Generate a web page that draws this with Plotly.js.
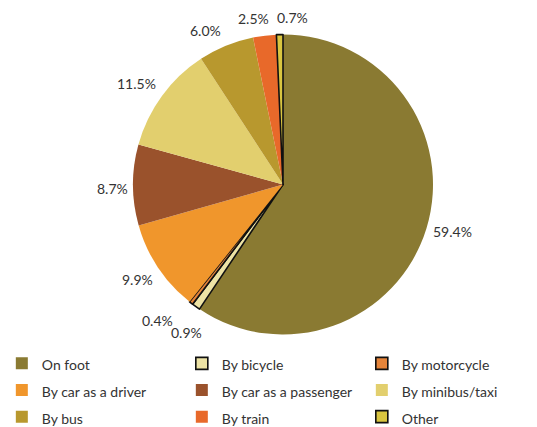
<!DOCTYPE html>
<html><head><meta charset="utf-8">
<script src="https://cdn.plot.ly/plotly-3.0.1.min.js"></script>
<style>html,body{margin:0;padding:0;background:#fff;}#chart{width:537px;height:427px;}</style>
</head><body><div id="chart"></div>
<script>
const categories = ["On foot","By bicycle","By motorcycle","By car as a driver","By car as a passenger","By minibus/taxi","By bus","By train","Other"];
const values = [59.4,0.9,0.4,9.9,8.7,11.5,6.0,2.5,0.7];
const labelsText = ["59.4%","0.9%","0.4%","9.9%","8.7%","11.5%","6.0%","2.5%","0.7%"];
const colors = ["#8A7A32","#EDE3A5","#E5843A","#F0962C","#9A522C","#E2CF6E","#B8982E","#E8692A","#D9C540"];
const outlined = [false,true,true,false,false,false,false,false,true];

// label placement tweaks (degrees / pixels), kept apart from the data
const labelAngleNudge = [-1.3,-2.3,5,0.5,-1,-1.5,-4.5,-3.2,4.4];
const labelRadialNudge = [-2,5,12,0,-2,1,2,2,2];

const FONT = 'Lato, "Open Sans", sans-serif';
const W = 537, H = 427;
const LEGEND_TOP = 345;           // px from top; legend reserves the space below
const PLOT_H = LEGEND_TOP;        // plot area height (margins 0)
const CX = 283, CY = 184.5, R = 150, PAD = 7;

const legendLabels = categories.map(c => '<span style="font-size:14px">' + c + '</span>');

const trace = {
  type:'pie', labels:legendLabels, values:values,
  textinfo:'none', sort:false, direction:'clockwise', rotation:0,
  marker:{colors:colors, line:{color:outlined.map(o=>o?'#111':'rgba(0,0,0,0)'), width:outlined.map(o=>o?1.6:0)}},
  domain:{x:[(CX-R)/W,(CX+R)/W], y:[1-(CY+R)/PLOT_H, 1-(CY-R)/PLOT_H]},
  hoverinfo:'none'
};

// value labels placed outside each slice at its mid-angle
const total = values.reduce((a,b)=>a+b,0);
let cum = 0;
const annotations = values.map((v,i)=>{
  const midDeg = (cum + v/2)/total*360 + labelAngleNudge[i];
  cum += v;
  const t = midDeg*Math.PI/180;
  const s = Math.sin(t), c = -Math.cos(t);
  const txt = labelsText[i];
  const digits = txt.replace(/[^0-9]/g,'').length;
  const w = digits*8.1 + 3.6 + 11.5, h = 14;
  const ext = Math.abs(s)*w/2 + Math.abs(c)*h/2;
  const d = R + PAD + ext + labelRadialNudge[i];
  const px = CX + s*d, py = CY + c*d;
  return {text:txt, x:px/W, y:1-py/PLOT_H, xref:'paper', yref:'paper',
    xanchor:'center', yanchor:'middle', showarrow:false,
    font:{family:FONT, size:14, color:'#333'}};
});

const layout = {
  width:W, height:H, margin:{l:0,r:0,t:0,b:0},
  paper_bgcolor:'#fff', showlegend:true,
  font:{family:FONT, size:13, color:'#333'},
  annotations:annotations,
  legend:{orientation:'h', xref:'container', yref:'container', x:0.0034, y:1-LEGEND_TOP/H, xanchor:'left', yanchor:'top',
    entrywidth:135, entrywidthmode:'pixels', traceorder:'normal',
    font:{family:FONT, size:18.2, color:'#333'}}
};
Plotly.newPlot('chart',[trace],layout,{staticPlot:true});
</script></body></html>
